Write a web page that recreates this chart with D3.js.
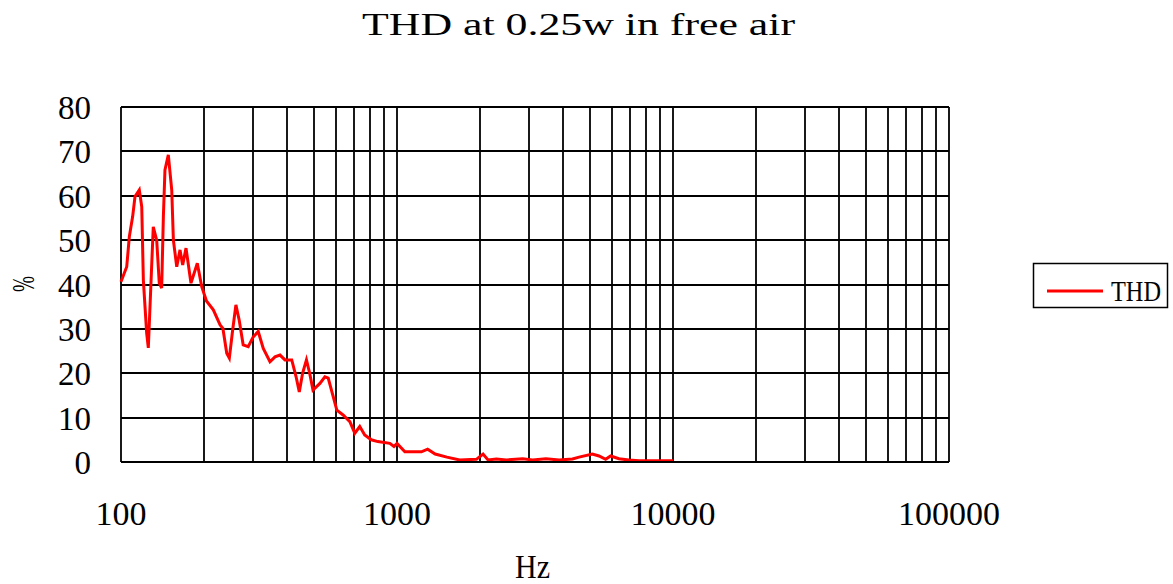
<!DOCTYPE html>
<html>
<head>
<meta charset="utf-8">
<script src="https://cdn.jsdelivr.net/npm/d3@7/dist/d3.min.js"></script>
<style>
  html, body { margin: 0; padding: 0; background: #fff; }
  svg { display: block; }
  text { font-family: "Liberation Serif", "DejaVu Serif", serif; fill: #000; }
</style>
</head>
<body>
<div id="chart"></div>
<script>
// THD curve (Hz, %)
const freqHz = [
  100, 104.9, 107.2, 110.2, 112.4, 116.5, 118.9, 120.5, 123.9, 125.6,
  128.1, 130.9, 134.7, 137.6, 140.4, 142.4, 144.3, 148.4, 152.7, 154.8,
  159.2, 163.6, 167.3, 172, 179.3, 189, 196.1, 204, 216, 228.6,
  234, 241.6, 246.9, 253.8, 260.8, 268, 277.1, 289, 301.4, 314.2,
  327.7, 346.6, 361.4, 376.8, 392.8, 415.6, 430.9, 442.6, 454.9, 469.8,
  482.6, 496.1, 525.7, 548, 563.4, 587.6, 605.4, 637.7, 674.7, 703.3,
  733, 764, 807, 852, 942, 975, 1000, 1068, 1226, 1291,
  1375, 1516, 1687, 1939, 2050, 2137, 2291, 2488, 2855, 3100,
  3465, 3869, 4322, 4568, 5102, 5394, 5701, 5943, 6370, 6924,
  7527, 10000
];
const thdPct = [
  40.6, 44, 50.8, 55.3, 59.8, 61.3, 57.5, 41, 29, 25.7,
  38.8, 53, 50, 40.3, 39.2, 55.3, 65.8, 69.2, 61.3, 50,
  44, 47.8, 44.4, 48.2, 40.3, 44.8, 39.5, 36.3, 34.3, 30.9,
  30.1, 24.5, 23.4, 29.7, 35.4, 32, 26.4, 26, 28.2, 29.4,
  25.6, 22.6, 23.7, 24.1, 23, 23, 19.2, 15.8, 20, 23,
  20, 16.2, 17.7, 19.2, 18.9, 14.7, 11.7, 10.6, 9.1, 6.5,
  8, 6.1, 5, 4.6, 4.2, 3.5, 4.2, 2.3, 2.3, 2.9,
  1.8, 1.1, 0.45, 0.6, 1.8, 0.45, 0.7, 0.45, 0.75, 0.45,
  0.75, 0.45, 0.7, 1.1, 1.8, 1.35, 0.6, 1.35, 0.75, 0.45,
  0.3, 0.3
];

const xTickLabels = [100, 1000, 10000, 100000];
const yTickLabels = [0, 10, 20, 30, 40, 50, 60, 70, 80];
const chartTitle = 'THD at 0.25w in free air';
const seriesName = 'THD';

const width = 1173, height = 584;
const plot = { left: 121, right: 949, top: 107, bottom: 462 };

const svg = d3.select('#chart').append('svg')
  .attr('width', width)
  .attr('height', height);

const x = d3.scaleLog().domain([100, 100000]).range([plot.left, plot.right]);
const y = d3.scaleLinear().domain([0, 80]).range([plot.bottom, plot.top]);

// minor + major vertical grid (1..9 per decade)
const vGrid = [];
for (let dec = 100; dec < 100000; dec *= 10) {
  for (let m = 1; m <= 9; m++) vGrid.push(dec * m);
}
vGrid.push(100000);

const grid = svg.append('g').attr('stroke', '#000').attr('stroke-width', 1.8);
grid.selectAll('.vg').data(vGrid).enter().append('line')
  .attr('x1', d => Math.round(x(d))).attr('x2', d => Math.round(x(d)))
  .attr('y1', plot.top).attr('y2', plot.bottom);
grid.selectAll('.hg').data(yTickLabels).enter().append('line')
  .attr('x1', plot.left).attr('x2', plot.right)
  .attr('y1', d => Math.round(y(d))).attr('y2', d => Math.round(y(d)));

// y tick labels
svg.append('g').selectAll('text').data(yTickLabels).enter().append('text')
  .attr('x', 91)
  .attr('y', d => y(d) + 12)
  .attr('text-anchor', 'end')
  .attr('font-size', 33)
  .text(d => d);

// x tick labels
svg.append('g').selectAll('text').data(xTickLabels).enter().append('text')
  .attr('x', d => x(d))
  .attr('y', 525)
  .attr('text-anchor', 'middle')
  .attr('font-size', 34)
  .text(d => d);

// curve
const line = d3.line()
  .x(d => x(d[0]))
  .y(d => y(d[1]));

svg.append('path')
  .datum(freqHz.map((f, i) => [f, thdPct[i]]))
  .attr('d', line)
  .attr('fill', 'none')
  .attr('stroke', '#ff0000')
  .attr('stroke-width', 3)
  .attr('stroke-linejoin', 'miter');

// bottom axis line over the curve
svg.append('line')
  .attr('x1', plot.left).attr('x2', plot.right)
  .attr('y1', plot.bottom).attr('y2', plot.bottom)
  .attr('stroke', '#000').attr('stroke-width', 1.8);

// title
svg.append('text')
  .attr('x', 362).attr('y', 35)
  .attr('font-size', 32)
  .attr('textLength', 433)
  .attr('lengthAdjust', 'spacingAndGlyphs')
  .text(chartTitle);

// axis titles
svg.append('text')
  .attr('x', 515).attr('y', 578)
  .attr('font-size', 33)
  .attr('textLength', 35)
  .attr('lengthAdjust', 'spacingAndGlyphs')
  .text('Hz');

svg.append('text')
  .attr('transform', 'translate(34,284) rotate(-90)')
  .attr('text-anchor', 'middle')
  .attr('font-size', 32)
  .attr('textLength', 16)
  .attr('lengthAdjust', 'spacingAndGlyphs')
  .text('%');

// legend
const legend = svg.append('g');
legend.append('rect')
  .attr('x', 1033.5).attr('y', 263.5)
  .attr('width', 134).attr('height', 44)
  .attr('fill', '#fff').attr('stroke', '#000').attr('stroke-width', 1.5);
legend.append('line')
  .attr('x1', 1047).attr('x2', 1103)
  .attr('y1', 291).attr('y2', 291)
  .attr('stroke', '#ff0000').attr('stroke-width', 3);
legend.append('text')
  .attr('x', 1111).attr('y', 301)
  .attr('font-size', 30)
  .attr('textLength', 50)
  .attr('lengthAdjust', 'spacingAndGlyphs')
  .text(seriesName);
</script>
</body>
</html>
